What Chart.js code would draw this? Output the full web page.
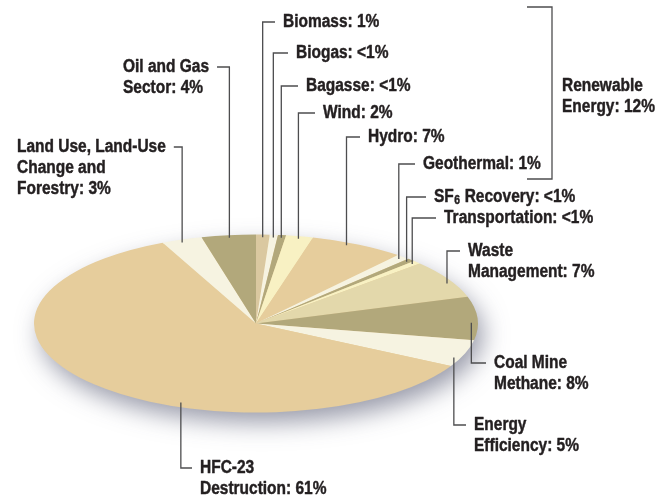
<!doctype html>
<html>
<head>
<title>Offset projects by type</title>
<script src="https://cdn.jsdelivr.net/npm/chart.js@4.4.9/dist/chart.umd.min.js"></script>
<style>
  body { margin: 0; background: #fff; }
</style>
<script>

// project types, clockwise from 12 o'clock
const categories = ['Biomass', 'Biogas', 'Bagasse', 'Wind', 'Hydro', 'Geothermal',
  'SF₆ Recovery', 'Transportation', 'Waste\nManagement', 'Coal Mine\nMethane',
  'Energy\nEfficiency', 'HFC-23\nDestruction', 'Land Use, Land-Use\nChange and\nForestry',
  'Oil and Gas\nSector'];
// share of total (%); the "<1%" types get 0.6
const shares = [1, 0.6, 0.6, 2, 7, 1, 0.6, 0.6, 7, 8, 5, 61, 3, 4];
const shareText = ['1%', '<1%', '<1%', '2%', '7%', '1%', '<1%', '<1%', '7%', '8%', '5%', '61%', '3%', '4%'];
const groupName = ['Renewable', 'Energy'];
const groupShare = '12%';

const TAN = '#e6cd9c', OLIVE = '#b2a87b', CREAM = '#f6f3e1', YELLOW = '#f8f1c3';
const colors = ['#dac8a0', CREAM, OLIVE, YELLOW, TAN, CREAM, OLIVE, YELLOW,
  '#e3d8ab', OLIVE, CREAM, TAN, CREAM, OLIVE];

// callout text position (left edge, middle of first line), where the leader
// leaves the slice (fraction of its sweep), and which side of the leader the text sits
const callouts = [
  { x: 283, y: 22 },
  { x: 296, y: 53 },
  { x: 306, y: 86 },
  { x: 323, y: 113 },
  { x: 368, y: 137, at: 0.4 },
  { x: 423, y: 164 },
  { x: 434, y: 197 },
  { x: 444, y: 218 },
  { x: 468, y: 251, at: 0.6 },
  { x: 494, y: 363, at: 0.6 },
  { x: 474, y: 425, at: 0.7 },
  { x: 200, y: 468, at: 0.38, r: 0.95 },
  { x: 17, y: 147, at: 0.45, side: 'left' },
  { x: 123, y: 67, side: 'left' },
];

// the flattened pie: centre and semi-axes on the page
const ELL = { x: 256, y: 323.5, a: 222, b: 89 };

// bold sans squeezed horizontally to get a condensed face
const FONT = 'bold 18px "Liberation Sans", Arial, sans-serif';
const SUBFONT = 'bold 12px "Liberation Sans", Arial, sans-serif';
const NARROW = 0.86;
const INK = '#231f20';
const LINE = '#4d4d4f';
const LINE_H = 21;

function squash(chart) {
  const arc = chart.getDatasetMeta(0).data[0];
  return { cx: arc.x, cy: arc.y, sx: ELL.a / arc.outerRadius, sy: ELL.b / arc.outerRadius };
}

// pie is drawn as a circle, then squashed into an ellipse with a soft shadow
const flatten = {
  id: 'flatten',
  beforeDatasetsDraw(chart) {
    const ctx = chart.ctx;
    const t = squash(chart);
    ctx.save();
    ctx.shadowColor = 'rgba(70,72,100,0.55)';
    ctx.shadowBlur = 24;
    ctx.shadowOffsetX = 6;
    ctx.shadowOffsetY = 11;
    ctx.fillStyle = TAN;
    ctx.beginPath();
    ctx.ellipse(ELL.x, ELL.y, ELL.a - 1, ELL.b - 1, 0, 0, Math.PI * 2);
    ctx.fill();
    ctx.restore();
    ctx.save();
    ctx.translate(ELL.x, ELL.y);
    ctx.scale(t.sx, t.sy);
    ctx.translate(-t.cx, -t.cy);
  },
  afterDatasetsDraw(chart) {
    chart.ctx.restore();
  }
};

function textWidth(ctx, s) {
  const parts = s.split('₆');
  let w = 0;
  parts.forEach((p, i) => {
    ctx.font = FONT;
    w += ctx.measureText(p).width;
    if (i < parts.length - 1) { ctx.font = SUBFONT; w += ctx.measureText('6').width + 1; }
  });
  ctx.font = FONT;
  return w * NARROW;
}

function put(ctx, s, x, y) {
  ctx.strokeText(s, x, y);
  ctx.fillText(s, x, y);
}

function drawText(ctx, s, x, y) {
  const parts = s.split('₆');
  ctx.save();
  ctx.translate(x, y);
  ctx.scale(NARROW, 1);
  ctx.strokeStyle = INK;
  ctx.lineWidth = 0.45;
  ctx.lineJoin = 'round';
  let px = 0;
  parts.forEach((p, i) => {
    ctx.font = FONT;
    put(ctx, p, px, 0);
    px += ctx.measureText(p).width;
    if (i < parts.length - 1) {
      ctx.font = SUBFONT;
      put(ctx, '6', px + 0.5, 4);
      px += ctx.measureText('6').width + 1;
    }
  });
  ctx.restore();
}

const callout = {
  id: 'callout',
  afterDraw(chart) {
    const ctx = chart.ctx;
    const t = squash(chart);
    const arcs = chart.getDatasetMeta(0).data;
    ctx.save();
    ctx.fillStyle = INK;
    ctx.textBaseline = 'middle';
    ctx.textAlign = 'left';
    ctx.strokeStyle = LINE;
    ctx.lineWidth = 1.3;

    callouts.forEach((c, i) => {
      const arc = arcs[i];
      const f = c.at ?? 0.5;
      const ang = arc.startAngle + (arc.endAngle - arc.startAngle) * f;
      const r = arc.outerRadius * (c.r ?? 0.97);
      const ax = ELL.x + t.sx * r * Math.cos(ang);
      const ay = ELL.y + t.sy * r * Math.sin(ang);
      const lines = (categories[i] + ': ' + shareText[i]).split('\n');
      let hx;
      if (c.side === 'left') hx = c.x + textWidth(ctx, lines[0]) + 8;
      else hx = c.x - 8;

      ctx.beginPath();
      ctx.moveTo(ax, ay);
      ctx.lineTo(ax, c.y);
      ctx.lineTo(hx, c.y);
      ctx.stroke();

      lines.forEach((ln, k) => drawText(ctx, ln, c.x, c.y + k * LINE_H));
    });

    // bracket round the renewable types
    ctx.beginPath();
    ctx.moveTo(527, 7);
    ctx.lineTo(552, 7);
    ctx.lineTo(552, 179);
    ctx.lineTo(527, 179);
    ctx.stroke();
    drawText(ctx, groupName[0], 562, 86);
    drawText(ctx, groupName[1] + ': ' + groupShare, 562, 107);
    ctx.restore();
  }
};

function go() {
  new Chart(document.getElementById('offsets'), {
    type: 'pie',
    data: {
      labels: categories,
      datasets: [{
        data: shares,
        backgroundColor: colors,
        borderWidth: 0,
        clip: false,
      }]
    },
    options: {
      responsive: false,
      animation: false,
      events: [],
      layout: { padding: { left: 34, right: 182, top: 27, bottom: 27 } },
      plugins: {
        legend: { display: false },
        tooltip: { enabled: false },
      }
    },
    plugins: [flatten, callout]
  });
}

window.onload = go;

</script>
</head>
<body>
<canvas id="offsets" width="660" height="498"></canvas>
</body>
</html>
